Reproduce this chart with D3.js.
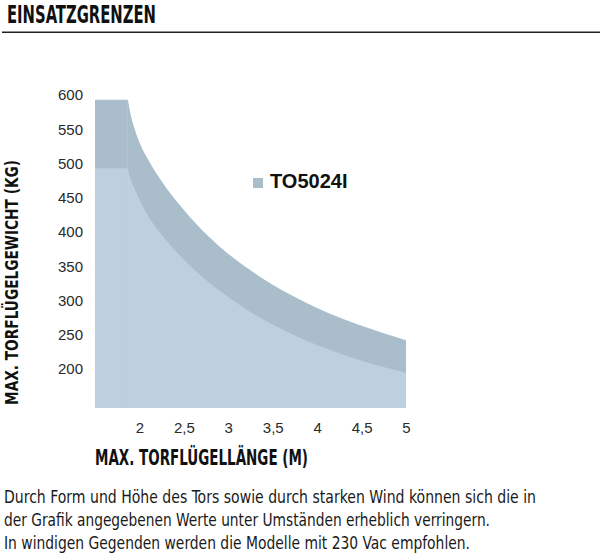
<!DOCTYPE html>
<html>
<head>
<meta charset="utf-8">
<script src="https://cdn.jsdelivr.net/npm/d3@7"></script>
<style>
    body { margin: 0; background: #fff; }
    svg { display: block; }
</style>
</head>
<body>
<svg id="chart" width="600" height="554"></svg>
<script>
// gate length (m) and the two weight limits (kg)
const lengths = [1.5, 1.87, 1.9, 1.95, 2.0, 2.1, 2.25, 2.5, 2.75, 3.0, 3.25, 3.5, 3.75, 4.0, 4.25, 4.5, 4.75, 5.0];
const upperLimit = [593, 593, 572, 549, 531, 505, 474, 432, 397, 368, 344, 323, 305, 289, 275, 263, 252, 242];
const lowerLimit = [493, 493, 478, 462, 447, 423, 396, 360, 330, 305, 283, 265, 249, 235, 223, 212, 203, 194];

const yTicks = [200, 250, 300, 350, 400, 450, 500, 550, 600];
const xTicks = [2, 2.5, 3, 3.5, 4, 4.5, 5];

const title = 'EINSATZGRENZEN';
const yTitle = 'MAX. TORFLÜGELGEWICHT (KG)';
const xTitle = 'MAX. TORFLÜGELLÄNGE (M)';
const legendLabel = 'TO5024I';
const notes = [
    'Durch Form und Höhe des Tors sowie durch starken Wind können sich die in',
    'der Grafik angegebenen Werte unter Umständen erheblich verringern.',
    'In windigen Gegenden werden die Modelle mit 230 Vac empfohlen.'
];

const svg = d3.select('#chart');
const condensed = '"DejaVu Sans Condensed", "DejaVu Sans", sans-serif';
const plain = '"Liberation Sans", Arial, sans-serif';

const colors = { upper: '#aabdca', lower: '#bdd0dd' };

/** Scales */
const x = d3.scaleLinear().domain([1.5, 5]).range([95, 406]);
const y = d3.scaleLinear().domain([143, 600]).range([408, 95]);

// header
svg.append('text')
    .attr('x', 7).attr('y', 22.5)
    .attr('textLength', 149).attr('lengthAdjust', 'spacingAndGlyphs')
    .style('font', 'bold 24px ' + condensed)
    .attr('fill', '#111')
    .text(title);

svg.append('line')
    .attr('x1', 2).attr('x2', 600)
    .attr('y1', 32.3).attr('y2', 32.3)
    .attr('stroke', '#222').attr('stroke-width', 1.4);

// the two bands: flat part drawn straight, the falling part smooth
function drawBand(values, color) {
    const pts = lengths.map((l, i) => [l, values[i]]);
    const flat = d3.area()
        .x(d => x(d[0])).y0(y(143)).y1(d => y(d[1]));
    const curve = d3.area()
        .x(d => x(d[0])).y0(y(143)).y1(d => y(d[1]))
        .curve(d3.curveMonotoneX);
    const g = svg.append('g');
    g.append('path').attr('d', flat(pts.slice(0, 2))).attr('fill', color);
    g.append('path').attr('d', curve(pts.slice(1))).attr('fill', color);
}
drawBand(upperLimit, colors.upper);
drawBand(lowerLimit, colors.lower);

// axes, no lines, only labels
const fmt = d => String(d).replace('.', ',');

const yAxis = svg.append('g')
    .attr('transform', 'translate(95,0)')
    .call(d3.axisLeft(y).tickValues(yTicks).tickSize(0).tickPadding(12));

const xAxis = svg.append('g')
    .attr('transform', 'translate(0,408)')
    .call(d3.axisBottom(x).tickValues(xTicks).tickFormat(fmt).tickSize(0).tickPadding(14));

[yAxis, xAxis].forEach(ax => {
    ax.select('.domain').remove();
    ax.selectAll('text')
        .style('font', '15px ' + plain)
        .attr('fill', '#2a2a2a');
});

// axis titles
svg.append('text')
    .attr('transform', 'translate(18,405) rotate(-90)')
    .attr('textLength', 245).attr('lengthAdjust', 'spacingAndGlyphs')
    .style('font', 'bold 18px ' + condensed)
    .attr('fill', '#111')
    .text(yTitle);

svg.append('text')
    .attr('x', 95).attr('y', 465)
    .attr('textLength', 213).attr('lengthAdjust', 'spacingAndGlyphs')
    .style('font', 'bold 21px ' + condensed)
    .attr('fill', '#111')
    .text(xTitle);

// legend
svg.append('rect')
    .attr('x', 253).attr('y', 178)
    .attr('width', 10).attr('height', 10)
    .attr('fill', colors.upper);
svg.append('text')
    .attr('x', 270).attr('y', 188)
    .style('font', 'bold 20px ' + plain)
    .attr('fill', '#111')
    .text(legendLabel);

// footnote
const noteWidths = [532, 486, 466];
svg.selectAll('.note')
    .data(notes)
    .enter()
    .append('text')
    .attr('class', 'note')
    .attr('x', 4)
    .attr('y', (d, i) => 503 + i * 23)
    .attr('textLength', (d, i) => noteWidths[i])
    .attr('lengthAdjust', 'spacingAndGlyphs')
    .style('font', '17px ' + condensed)
    .attr('fill', '#1a1a1a')
    .text(d => d);
</script>
</body>
</html>
